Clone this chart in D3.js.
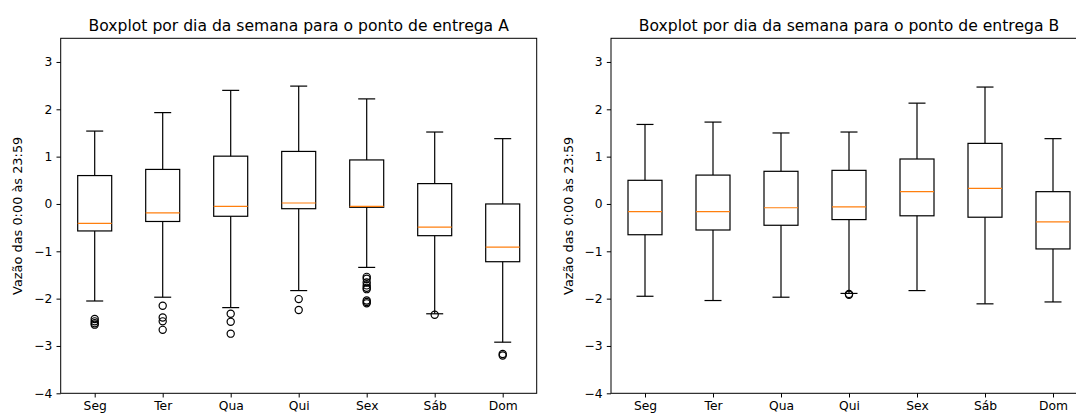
<!DOCTYPE html>
<html>
<head>
<meta charset="utf-8">
<script src="https://cdn.jsdelivr.net/npm/d3@7"></script>
<style>
  body { margin: 0; background: #fff; }
  svg { display: block; font-family: "DejaVu Sans", sans-serif; }
</style>
</head>
<body>
<div id="chart"></div>
<script>
// days of the week
var days = ["Seg", "Ter", "Qua", "Qui", "Sex", "Sáb", "Dom"];
var yTicks = [-4, -3, -2, -1, 0, 1, 2, 3];

// ponto de entrega A
var aHi  = [1.54, 1.93, 2.40, 2.49, 2.22, 1.52, 1.38];
var aQ3  = [0.60, 0.73, 1.01, 1.11, 0.93, 0.43, 0.00];
var aMed = [-0.41, -0.19, -0.05, 0.02, -0.05, -0.49, -0.91];
var aQ1  = [-0.57, -0.37, -0.26, -0.10, -0.07, -0.67, -1.22];
var aLo  = [-2.05, -1.97, -2.19, -1.83, -1.34, -2.32, -2.92];
var aFliers = [
  [-2.43, -2.48, -2.52, -2.55],
  [-2.15, -2.40, -2.48, -2.66],
  [-2.32, -2.49, -2.74],
  [-2.01, -2.24],
  [-1.54, -1.58, -1.66, -1.72, -1.77, -1.80, -2.04, -2.07, -2.10],
  [-2.34],
  [-3.17, -3.20]
];

// ponto de entrega B
var bHi  = [1.68, 1.73, 1.50, 1.52, 2.13, 2.47, 1.38];
var bQ3  = [0.50, 0.61, 0.69, 0.71, 0.95, 1.28, 0.26];
var bMed = [-0.16, -0.16, -0.08, -0.06, 0.26, 0.33, -0.38];
var bQ1  = [-0.65, -0.55, -0.45, -0.33, -0.25, -0.28, -0.95];
var bLo  = [-1.95, -2.04, -1.97, -1.89, -1.83, -2.11, -2.07];
var bFliers = [[], [], [], [-1.90, -1.92], [], [], []];

var W = 1076, H = 416;
var top_ = 38.3, bottom_ = 393.3, panelW = 476;

var svg = d3.select("#chart").append("svg")
  .attr("width", W)
  .attr("height", H)
  .style("overflow", "hidden");

function fmt(d) { return d < 0 ? "\u2212" + Math.abs(d) : "" + d; }

function drawPanel(left, title, hi, q3, med, q1, lo, fliers) {
  var x = d3.scaleLinear().domain([0.5, 7.5]).range([left, left + panelW]);
  var y = d3.scaleLinear().domain([-4, 3.5]).range([bottom_, top_]);
  var g = svg.append("g");

  var rows = days.map(function(d, i) {
    return {pos: i + 1, hi: hi[i], q3: q3[i], med: med[i], q1: q1[i], lo: lo[i], fl: fliers[i]};
  });
  var bw = x(1.25) - x(1);   // half box width
  var cw = x(1.125) - x(1);  // half cap width

  var box = g.selectAll(".box").data(rows).enter().append("g");

  // whiskers
  box.append("line")
    .attr("x1", function(d) { return x(d.pos); }).attr("x2", function(d) { return x(d.pos); })
    .attr("y1", function(d) { return y(d.q3); }).attr("y2", function(d) { return y(d.hi); })
    .attr("stroke", "#000").attr("stroke-width", 1.2);
  box.append("line")
    .attr("x1", function(d) { return x(d.pos); }).attr("x2", function(d) { return x(d.pos); })
    .attr("y1", function(d) { return y(d.q1); }).attr("y2", function(d) { return y(d.lo); })
    .attr("stroke", "#000").attr("stroke-width", 1.2);
  // caps
  box.append("line")
    .attr("x1", function(d) { return x(d.pos) - cw; }).attr("x2", function(d) { return x(d.pos) + cw; })
    .attr("y1", function(d) { return y(d.hi); }).attr("y2", function(d) { return y(d.hi); })
    .attr("stroke", "#000").attr("stroke-width", 1.2);
  box.append("line")
    .attr("x1", function(d) { return x(d.pos) - cw; }).attr("x2", function(d) { return x(d.pos) + cw; })
    .attr("y1", function(d) { return y(d.lo); }).attr("y2", function(d) { return y(d.lo); })
    .attr("stroke", "#000").attr("stroke-width", 1.2);
  // box
  box.append("rect")
    .attr("x", function(d) { return x(d.pos) - bw; })
    .attr("width", 2 * bw)
    .attr("y", function(d) { return y(d.q3); })
    .attr("height", function(d) { return y(d.q1) - y(d.q3); })
    .attr("fill", "none").attr("stroke", "#000").attr("stroke-width", 1.2);
  // median
  box.append("line")
    .attr("x1", function(d) { return x(d.pos) - bw; }).attr("x2", function(d) { return x(d.pos) + bw; })
    .attr("y1", function(d) { return y(d.med); }).attr("y2", function(d) { return y(d.med); })
    .attr("stroke", "#ff7f0e").attr("stroke-width", 1.2);
  // fliers
  box.selectAll("circle")
    .data(function(d) { return d.fl.map(function(v) { return {pos: d.pos, v: v}; }); })
    .enter().append("circle")
    .attr("cx", function(d) { return x(d.pos); })
    .attr("cy", function(d) { return y(d.v); })
    .attr("r", 3.6)
    .attr("fill", "none").attr("stroke", "#000").attr("stroke-width", 1.2);

  // axes
  var xAx = g.append("g")
    .attr("transform", "translate(0," + bottom_ + ")")
    .call(d3.axisBottom(x).tickValues([1, 2, 3, 4, 5, 6, 7])
      .tickFormat(function(d) { return days[d - 1]; })
      .tickSize(4.2).tickPadding(4.2));
  var yAx = g.append("g")
    .attr("transform", "translate(" + left + ",0)")
    .call(d3.axisLeft(y).tickValues(yTicks).tickFormat(fmt).tickSize(4.2).tickPadding(4.2));
  [xAx, yAx].forEach(function(a) {
    a.select(".domain").remove();
    a.selectAll("line").attr("stroke", "#000").attr("stroke-width", 1);
    a.selectAll("text").attr("fill", "#000").style("font-size", "12.3px")
      .style("font-family", "DejaVu Sans, sans-serif");
  });

  // frame
  g.append("rect")
    .attr("x", left).attr("y", top_)
    .attr("width", panelW).attr("height", bottom_ - top_)
    .attr("fill", "none").attr("stroke", "#000").attr("stroke-width", 1);

  // title
  g.append("text")
    .attr("x", left + panelW / 2).attr("y", top_ - 7)
    .attr("text-anchor", "middle")
    .style("font-size", "15.6px")
    .attr("fill", "#000")
    .text(title);

  // y label
  g.append("text")
    .attr("transform", "translate(" + (left - 38.5) + "," + ((top_ + bottom_) / 2) + ") rotate(-90)")
    .attr("text-anchor", "middle")
    .style("font-size", "12.9px")
    .attr("fill", "#000")
    .text("Vazão das 0:00 às 23:59");
}

drawPanel(60.7, "Boxplot por dia da semana para o ponto de entrega A", aHi, aQ3, aMed, aQ1, aLo, aFliers);
drawPanel(611, "Boxplot por dia da semana para o ponto de entrega B", bHi, bQ3, bMed, bQ1, bLo, bFliers);
</script>
</body>
</html>
